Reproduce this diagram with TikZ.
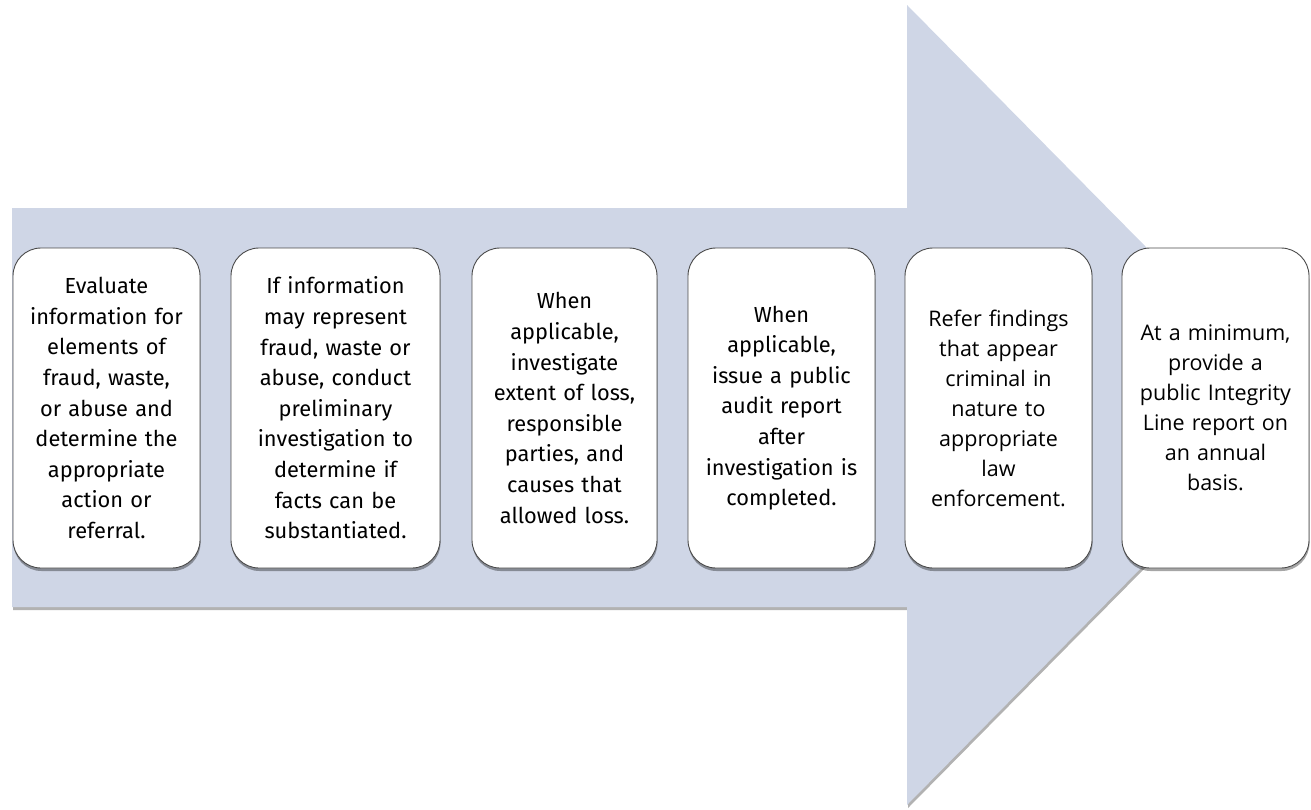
\documentclass[tikz,border=0pt]{standalone}
\usepackage{fontspec}
\setmainfont{Fira Sans}
\newfontfamily\opensansfam{Open Sans}
\usetikzlibrary{shadows}
\definecolor{arrowfill}{HTML}{CFD6E6}
\definecolor{boxline}{HTML}{4A4A4A}
\begin{document}
\begin{tikzpicture}[x=1pt,y=-1pt,
  stepbox/.style={draw=boxline, line width=0.9pt, fill=white, rounded corners=28pt,
    minimum height=320pt, inner sep=0pt, align=center,
    font=\fontsize{21.8}{30.6}\selectfont,
    drop shadow={shadow xshift=0.5pt, shadow yshift=-3pt, opacity=0.35, fill=black}},
  widebox/.style={stepbox, font=\opensansfam\fontsize{21.5}{30}\selectfont}]
\useasboundingbox (0,0) rectangle (1311,809);
\fill[arrowfill, drop shadow={shadow xshift=1pt, shadow yshift=-3pt, opacity=0.3, fill=black}]
  (12,208) -- (907,208) -- (907,5) -- (1302,405) -- (907,805) -- (907,607) -- (12,607) -- cycle;
\node[stepbox, minimum width=187pt, text width=184pt] (b1) at (106.5,408)
  {Evaluate\\information for\\elements of\\fraud, waste,\\or abuse and\\determine the\\appropriate\\action or\\referral.};
\node[stepbox, minimum width=209pt, text width=204pt] (b2) at (335.5,408)
  {If information\\may represent\\fraud, waste or\\abuse, conduct\\preliminary\\investigation to\\determine if\\facts can be\\substantiated.};
\node[stepbox, minimum width=185pt, text width=182pt] (b3) at (564.5,408)
  {When\\applicable,\\investigate\\extent of loss,\\responsible\\parties, and\\causes that\\allowed loss.};
\node[stepbox, minimum width=187pt, text width=184pt] (b4) at (781.5,408)
  {When\\applicable,\\issue a public\\audit report\\after\\investigation is\\completed.};
\node[widebox, minimum width=187pt, text width=184pt] (b5) at (998.5,408)
  {Refer findings\\that appear\\criminal in\\nature to\\appropriate\\law\\enforcement.};
\node[widebox, minimum width=187pt, text width=184pt] (b6) at (1215.5,408)
  {At a minimum,\\provide a\\public Integrity\\Line report on\\an annual\\basis.};
\end{tikzpicture}
\end{document}
